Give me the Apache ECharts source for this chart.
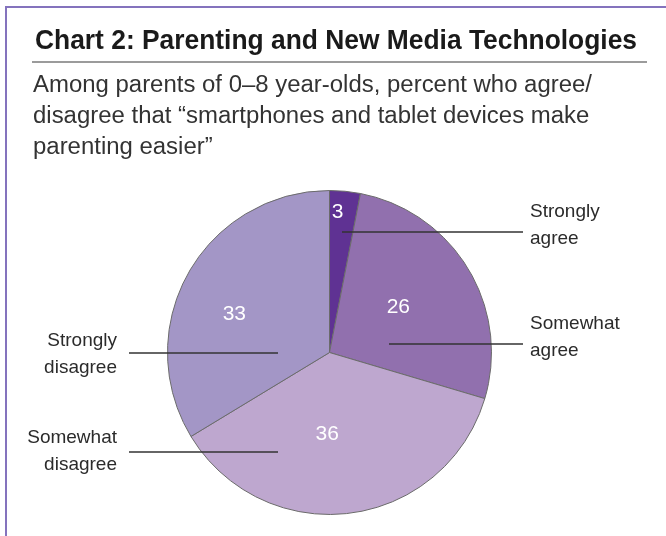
<!DOCTYPE html>
<html><head><meta charset="utf-8">
<script src="https://cdn.jsdelivr.net/npm/echarts@6/dist/echarts.min.js"></script>
<style>html,body{margin:0;padding:0;background:#fff}#c{width:666px;height:536px}</style>
</head><body><div id="c"></div>
<script>
// ---- data ----
const categories = ['Strongly agree', 'Somewhat agree', 'Somewhat disagree', 'Strongly disagree'];
const labelTexts = ['Strongly\nagree', 'Somewhat\nagree', 'Somewhat\ndisagree', 'Strongly\ndisagree'];
const values = [3, 26, 36, 33];
const titleText = 'Chart 2: Parenting and New Media Technologies';
const subtitleLines = [
  'Among parents of 0\u20138 year-olds, percent who agree/',
  'disagree that \u201csmartphones and tablet devices make',
  'parenting easier\u201d'
];

// ---- styles / layout ----
const colors = ['#5f3293', '#9170ae', '#bea7cf', '#a396c6'];
const PIE_CENTER = [329.5, 352.5];
const PIE_R = 162;
const valueLabelShift = [[0, -57], [-3, -2], [-13, -2], [-22, 3]];
const leaders = [
  { from: [342, 232], to: 523, textX: 530, textY: 225, side: 'right' },
  { from: [389, 344], to: 523, textX: 530, textY: 337, side: 'right' },
  { from: [278, 452], to: 129, textX: 117, textY: 451, side: 'left' },
  { from: [278, 353], to: 129, textX: 117, textY: 354, side: 'left' }
];
const FONT = '"Liberation Sans", Arial, sans-serif';

function measure(text, font) {
  const ctx = document.createElement('canvas').getContext('2d');
  ctx.font = font;
  return ctx.measureText(text).width;
}
const titleFont = 'bold 28px "Liberation Sans", Arial, sans-serif';
const subFont = '23px "Liberation Sans", Arial, sans-serif';
const titleScale = 602 / measure(titleText, titleFont);
const subScale = 559 / measure(subtitleLines[0], subFont);

const chart = echarts.init(document.getElementById('c'), null, { renderer: 'canvas' });

const pieData = categories.map((name, i) => ({ name: name, value: values[i], itemStyle: { color: colors[i] } }));
const labelData = categories.map((name, i) => ({ name: name, value: values[i] }));

const graphics = [
  { type: 'line', shape: { x1: 5, y1: 7, x2: 666, y2: 7 }, style: { stroke: '#8473bd', lineWidth: 2 } },
  { type: 'line', shape: { x1: 6, y1: 6, x2: 6, y2: 536 }, style: { stroke: '#8473bd', lineWidth: 2 } },
  { type: 'line', shape: { x1: 32, y1: 62, x2: 647, y2: 62 }, style: { stroke: '#7a7a7a', lineWidth: 1.5 } },
  { type: 'text', x: 35, y: 41, scaleX: titleScale, style: { text: titleText, font: titleFont, fill: '#1a1a1a', verticalAlign: 'middle' } }
];
subtitleLines.forEach((t, i) => {
  graphics.push({ type: 'text', x: 33, y: 86 + i * 31, scaleX: subScale, style: { text: t, font: subFont, fill: '#333333', verticalAlign: 'middle' } });
});

chart.setOption({
  animation: false,
  graphic: graphics,
  series: [
    {
      type: 'pie',
      z: 2,
      center: PIE_CENTER,
      radius: PIE_R,
      startAngle: 90,
      clockwise: true,
      silent: true,
      data: pieData,
      itemStyle: { borderColor: '#6b6b6b', borderWidth: 1 },
      label: { show: true, position: 'inside', formatter: '{c}', color: '#ffffff', fontSize: 21, fontFamily: FONT },
      labelLine: { show: false },
      emphasis: { disabled: true },
      labelLayout: function (p) {
        const s = valueLabelShift[p.dataIndex];
        return { dx: s[0], dy: s[1] };
      }
    },
    {
      type: 'pie',
      z: 10,
      center: PIE_CENTER,
      radius: PIE_R,
      startAngle: 90,
      clockwise: true,
      silent: true,
      data: labelData,
      itemStyle: { color: 'rgba(0,0,0,0)', borderWidth: 0 },
      label: {
        show: true, position: 'outside', color: '#2b2b2b', fontSize: 19, lineHeight: 27, fontFamily: FONT,
        formatter: function (p) { return labelTexts[p.dataIndex]; }
      },
      labelLine: { show: true, length: 10, length2: 10, lineStyle: { color: '#333333', width: 1.3 } },
      emphasis: { disabled: true },
      labelLayout: function (p) {
        const L = leaders[p.dataIndex];
        const y = L.from[1];
        return {
          x: L.textX, y: L.textY,
          align: L.side === 'right' ? 'left' : 'right',
          verticalAlign: 'middle',
          labelLinePoints: [[L.from[0], y], [(L.from[0] + L.to) / 2, y], [L.to, y]]
        };
      }
    }
  ]
});
</script>
</body></html>
